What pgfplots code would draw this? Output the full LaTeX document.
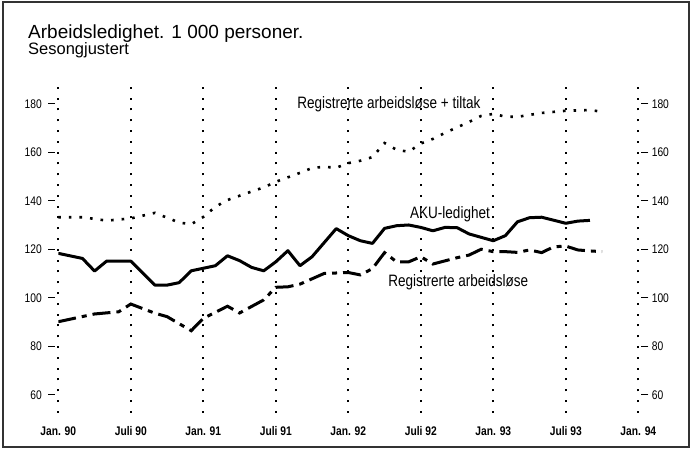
\documentclass[border=0pt]{standalone}
\usepackage{fontspec}
\setmainfont{Liberation Sans}
\newfontfamily\narrow{Liberation Sans}[FakeStretch=0.82]
\usepackage{pgfplots}
\pgfplotsset{compat=1.18}
\pgfplotstableread{
m v
0 118.3
2 116.2
3 111.0
4 115.1
6 115.1
8 105.2
9 105.2
10 106.2
11 111.1
13 113.2
14 117.3
15 115.3
16 112.5
17 111.1
18 114.8
19 119.4
20 113.2
21 116.9
23 128.5
24 125.6
25 123.5
26 122.4
27 128.6
28 129.7
29 130.0
30 129.0
31 127.6
32 129.0
33 128.9
34 126.3
36 123.5
37 125.6
38 131.3
39 133.0
40 133.2
42 130.7
43 131.6
44 131.9
}\aku
\pgfplotstableread{
m v
0 90.1
3 93.3
5 94.2
6 97.4
8 93.6
9 92.2
11 86.4
12 91.5
14 96.5
15 93.7
17 99.1
18 104.3
19 104.5
20 105.6
22 110.0
24 110.4
25 109.4
26 112.0
27 118.6
28 114.8
29 114.8
30 116.9
31 113.9
33 116.5
34 117.6
35 120.0
36 119.0
37 119.0
38 118.7
39 119.7
40 118.6
41 121.0
42 121.3
43 119.7
44 119.3
45 119.0
}\reg
\pgfplotstableread{
m v
0 133.2
2 133.2
4 131.8
6 132.7
8 135.0
10 131.0
11 130.3
12 133.3
13 137.5
14 140.3
16 143.8
17 145.5
18 147.8
20 151.5
21 153.5
22 154.0
23 153.6
24 155.5
25 156.5
26 158.0
27 163.8
28 161.0
29 160.2
30 163.6
31 165.5
32 168.0
34 172.5
35 175.0
36 175.8
37 174.7
38 174.6
40 176.2
42 177.1
44 177.4
45 176.7
}\til
\pgfplotsset{common/.style={
  scale only axis, width=580pt, height=333.4pt,
  at={(58.3pt,42.1pt)}, anchor=south west,
  xmin=0, xmax=48, ymin=52.5, ymax=190,
  axis line style={draw=none},
  ytick={60,80,...,180},
  tick align=outside, major tick length=13pt,
  ytick style={line width=1.3pt, black, dash pattern=on 0pt off 3pt on 7pt off 3pt},
  /pgf/number format/assume math mode=true,
  yticklabel style={font=\narrow\fontsize{12.5}{14}\selectfont, black},
}}
\begin{document}
\begin{tikzpicture}[x=1pt,y=1pt]
\useasboundingbox (0,0) rectangle (691,455);
\draw[line width=1.2pt, black!80] (3,8) rectangle (689,453);
\node[anchor=base west, inner sep=0, font=\fontsize{19}{22}\selectfont] at (28,416) {Arbeidsledighet. 1 000 personer.};
\node[anchor=base west, inner sep=0, font=\fontsize{16.5}{18}\selectfont] at (28,400) {Sesongjustert};
\begin{axis}[common,
  ytick pos=left,
  xtick={0,6,...,48},
  xticklabels={Jan. 90,Juli 90,Jan. 91,Juli 91,Jan. 92,Juli 92,Jan. 93,Juli 93,Jan. 94},
  xtick style={draw=none},
  xticklabel style={font=\narrow\bfseries\fontsize{12.5}{14}\selectfont, black, yshift=3pt},
  xmajorgrids,
  major grid style={line width=2pt, black, dash pattern=on 2pt off 8.8pt},
]
\addplot[black, line width=2.6pt, dash pattern=on 2.6pt off 8pt] table[x=m,y=v] {\til};
\addplot[black, line width=3pt, line join=round] table[x=m,y=v] {\aku};
\addplot[black, line width=3pt, dash pattern=on 18pt off 6pt on 5pt off 6pt] table[x=m,y=v] {\reg};
\node[anchor=base west, inner sep=0, font=\narrow\fontsize{16.5}{18}\selectfont] at (axis cs:19.76,178.2) {Registrerte arbeidsløse + tiltak};
\node[anchor=base west, inner sep=0, font=\narrow\fontsize{16.5}{18}\selectfont] at (axis cs:29.1,132.7) {AKU-ledighet};
\node[anchor=base west, inner sep=0, font=\narrow\fontsize{16.5}{18}\selectfont] at (axis cs:27.3,104.5) {Registrerte arbeidsløse};
\end{axis}
\begin{axis}[common,
  ytick pos=right, yticklabel pos=right,
  xtick=\empty,
  yticklabel style={xshift=-3pt},
]
\end{axis}
\end{tikzpicture}
\end{document}
